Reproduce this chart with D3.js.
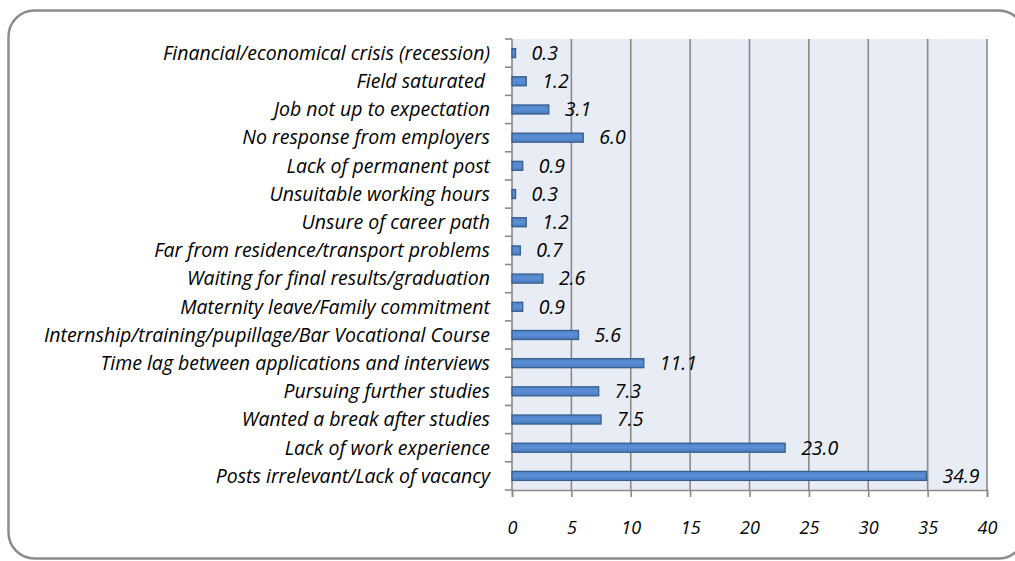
<!DOCTYPE html>
<html>
<head>
<meta charset="utf-8">
<script src="https://cdn.jsdelivr.net/npm/d3@7"></script>
<style>
  body { margin: 0; background: #fff; }
  svg { display: block; }
  text { font-family: "Open Sans", sans-serif; font-style: italic; }
</style>
</head>
<body>
<div id="chart"></div>
<script>
// reasons, top to bottom as drawn
var reasons = [
    "Financial/economical crisis (recession)",
    "Field saturated ",
    "Job not up to expectation",
    "No response from employers",
    "Lack of permanent post",
    "Unsuitable working hours",
    "Unsure of career path",
    "Far from residence/transport problems",
    "Waiting for final results/graduation",
    "Maternity leave/Family commitment",
    "Internship/training/pupillage/Bar Vocational Course",
    "Time lag between applications and interviews",
    "Pursuing further studies",
    "Wanted a break after studies",
    "Lack of work experience",
    "Posts irrelevant/Lack of vacancy"
]
var percents = [0.3, 1.2, 3.1, 6.0, 0.9, 0.3, 1.2, 0.7, 2.6, 0.9, 5.6, 11.1, 7.3, 7.5, 23.0, 34.9]
var xTicks = [0, 5, 10, 15, 20, 25, 30, 35, 40]

var width = 1015, height = 561
var margin = { top: 39, right: 28, bottom: 71, left: 512 }

var svg = d3.select("#chart")
    .append("svg")
    .attr("width", width)
    .attr("height", height)

// rounded frame around the chart (right side runs off the picture)
svg.append("rect")
    .attr("x", 8.5)
    .attr("y", 10.5)
    .attr("width", 1016)
    .attr("height", 548)
    .attr("rx", 26)
    .attr("fill", "none")
    .attr("stroke", "#8c8c8c")
    .attr("stroke-width", 2.5)

var x = d3.scaleLinear()
    .domain([0, 40])
    .range([margin.left, width - margin.right])

var y = d3.scaleBand()
    .domain(reasons)
    .range([margin.top, height - margin.bottom])
    .paddingInner(0.68)
    .paddingOuter(0.34)

var step = y.step()

// plot background
svg.append("rect")
    .attr("x", x(0))
    .attr("y", margin.top)
    .attr("width", x(40) - x(0))
    .attr("height", height - margin.bottom - margin.top)
    .attr("fill", "#e8ecf4")

// vertical gridlines
svg.append("g")
    .selectAll("line")
    .data(xTicks.slice(1))
    .enter().append("line")
    .attr("x1", function(d) { return x(d) })
    .attr("x2", function(d) { return x(d) })
    .attr("y1", margin.top)
    .attr("y2", height - margin.bottom)
    .style("stroke", "#8a8a8a")
    .style("stroke-width", 1.6)

// x axis
var xAxis = svg.append("g")
    .attr("transform", "translate(0," + (height - margin.bottom) + ")")
    .call(d3.axisBottom(x).tickValues(xTicks).tickSize(7).tickPadding(24).tickFormat(d3.format("d")))
xAxis.select(".domain").attr("stroke", "#8a8a8a").attr("stroke-width", 1.6)
xAxis.selectAll(".tick line").attr("stroke", "#8a8a8a").attr("stroke-width", 1.6)
xAxis.selectAll(".tick text")
    .attr("fill", "#000")
    .style("font-size", "18px")
    .style("font-family", "'Open Sans', sans-serif")
    .style("font-style", "italic")

// y axis: line + ticks at category boundaries
var yAxisG = svg.append("g")
yAxisG.append("line")
    .attr("x1", x(0)).attr("x2", x(0))
    .attr("y1", margin.top).attr("y2", height - margin.bottom)
    .style("stroke", "#8a8a8a")
    .style("stroke-width", 1.6)
yAxisG.selectAll(".ytick")
    .data(d3.range(reasons.length + 1))
    .enter().append("line")
    .attr("x1", x(0) - 7).attr("x2", x(0))
    .attr("y1", function(i) { return margin.top + i * step })
    .attr("y2", function(i) { return margin.top + i * step })
    .style("stroke", "#8a8a8a")
    .style("stroke-width", 1.6)

// category labels
svg.append("g")
    .selectAll("text")
    .data(reasons)
    .enter().append("text")
    .attr("x", x(0) - 22)
    .attr("y", function(d) { return y(d) + y.bandwidth() / 2 })
    .attr("dy", "0.35em")
    .attr("text-anchor", "end")
    .style("font-size", "19.5px")
    .attr("fill", "#000")
    .attr("xml:space", "preserve")
    .text(function(d) { return d })

// bars
var defs = svg.append("defs")
var grad = defs.append("linearGradient")
    .attr("id", "barGrad")
    .attr("x1", 0).attr("y1", 0).attr("x2", 0).attr("y2", 1)
grad.append("stop").attr("offset", "0%").attr("stop-color", "#4f81c6")
grad.append("stop").attr("offset", "45%").attr("stop-color", "#5b8fd6")
grad.append("stop").attr("offset", "100%").attr("stop-color", "#4a7cc0")

svg.append("g")
    .selectAll("rect")
    .data(percents)
    .enter().append("rect")
    .attr("x", x(0))
    .attr("y", function(d, i) { return y(reasons[i]) })
    .attr("width", function(d) { return x(d) - x(0) })
    .attr("height", y.bandwidth())
    .attr("fill", "url(#barGrad)")
    .attr("stroke", "#3a5e8c")
    .attr("stroke-width", 1.3)

// value labels
svg.append("g")
    .selectAll("text")
    .data(percents)
    .enter().append("text")
    .attr("x", function(d) { return x(d) + 16 })
    .attr("y", function(d, i) { return y(reasons[i]) + y.bandwidth() / 2 })
    .attr("dy", "0.35em")
    .style("font-size", "19.5px")
    .attr("fill", "#000")
    .text(function(d) { return d3.format(".1f")(d) })
</script>
</body>
</html>
